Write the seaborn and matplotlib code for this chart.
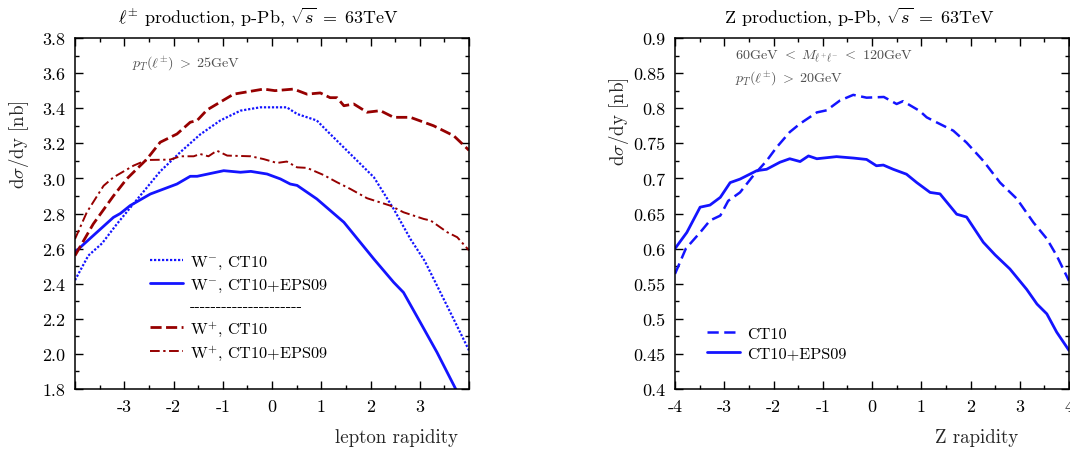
import numpy as np
import pandas as pd
import matplotlib
matplotlib.use("Agg")
import matplotlib.pyplot as plt
from matplotlib.lines import Line2D
import seaborn as sns

# ---------------- data ----------------
wm_ct10_x = [-4.0, -3.73, -3.45, -3.15, -2.74, -2.27, -1.86, -1.46, -1.05, -0.64, -0.24, 0.30, 0.51,
             0.91, 1.12, 1.66, 2.07, 2.47, 2.81, 3.10, 3.62, 4.0]
wm_ct10_y = [2.42, 2.56, 2.63, 2.74, 2.88, 3.04, 3.15, 3.25, 3.33, 3.386, 3.405, 3.405, 3.367,
             3.33, 3.27, 3.12, 3.006, 2.826, 2.655, 2.53, 2.237, 2.02]

wm_eps_x = [-4.0, -3.63, -3.22, -3.08, -2.88, -2.47, -1.93, -1.66, -1.52, -0.98, -0.64, -0.43, -0.10,
            0.17, 0.37, 0.51, 0.91, 1.46, 2.07, 2.47, 2.67, 3.01, 3.35, 3.73, 4.0]
wm_eps_y = [2.58, 2.674, 2.778, 2.80, 2.845, 2.911, 2.968, 3.012, 3.012, 3.044, 3.035, 3.04, 3.025,
            2.997, 2.968, 2.96, 2.883, 2.75, 2.54, 2.408, 2.35, 2.18, 2.009, 1.80, 1.66]

wp_ct10_x = [-4.0, -3.63, -3.22, -2.95, -2.54, -2.27, -1.93, -1.66, -1.52, -1.32, -0.78, -0.17, 0.06,
             0.44, 0.71, 0.98, 1.18, 1.32, 1.46, 1.66, 1.93, 2.20, 2.47, 2.81, 3.28, 3.69, 4.0]
wp_ct10_y = [2.56, 2.74, 2.90, 2.997, 3.11, 3.206, 3.253, 3.32, 3.33, 3.39, 3.48, 3.509, 3.50,
             3.509, 3.48, 3.487, 3.46, 3.46, 3.414, 3.424, 3.377, 3.386, 3.348, 3.348, 3.30, 3.243, 3.16]

wp_eps_x = [-4.0, -3.76, -3.42, -3.22, -2.81, -2.54, -2.07, -1.86, -1.59, -1.46, -1.29, -1.12, -0.91,
            -0.43, -0.17, 0.10, 0.30, 0.51, 0.71, 1.05, 1.32, 1.59, 1.93, 2.40, 2.67, 3.08, 3.22,
            3.56, 3.76, 4.0]
wp_eps_y = [2.655, 2.807, 2.958, 3.006, 3.073, 3.105, 3.107, 3.126, 3.126, 3.139, 3.126, 3.158, 3.13,
            3.126, 3.11, 3.088, 3.096, 3.063, 3.06, 3.019, 2.978, 2.94, 2.887, 2.845, 2.807, 2.769,
            2.76, 2.693, 2.665, 2.59]

z_ct10_x = [-4.0, -3.78, -3.49, -3.29, -3.08, -2.92, -2.68, -2.41, -2.14, -1.94, -1.67, -1.46, -1.12,
            -0.92, -0.65, -0.38, -0.11, 0.24, 0.50, 0.63, 0.97, 1.11, 1.25, 1.65, 1.92, 2.26, 2.60,
            2.94, 3.28, 3.55, 3.75, 4.0]
z_ct10_y = [0.564, 0.60, 0.623, 0.640, 0.647, 0.668, 0.680, 0.704, 0.725, 0.744, 0.766, 0.778, 0.794,
            0.797, 0.811, 0.819, 0.815, 0.816, 0.806, 0.81, 0.796, 0.787, 0.782, 0.768, 0.751, 0.725,
            0.694, 0.671, 0.637, 0.614, 0.590, 0.554]

z_eps_x = [-4.0, -3.76, -3.49, -3.29, -3.08, -2.88, -2.68, -2.34, -2.14, -1.87, -1.67, -1.46, -1.29,
           -1.12, -0.72, -0.38, -0.11, 0.09, 0.23, 0.43, 0.70, 0.91, 1.18, 1.38, 1.72, 1.92, 2.26,
           2.50, 2.80, 3.14, 3.35, 3.55, 3.75, 4.0]
z_eps_y = [0.60, 0.623, 0.659, 0.662, 0.673, 0.694, 0.699, 0.711, 0.713, 0.723, 0.728, 0.724, 0.732,
           0.728, 0.731, 0.729, 0.727, 0.718, 0.719, 0.713, 0.706, 0.694, 0.680, 0.678, 0.649, 0.645,
           0.609, 0.591, 0.571, 0.542, 0.521, 0.507, 0.481, 0.455]

left_labels = [r"W$^{\mathrm{-}}$, CT10", r"W$^{\mathrm{-}}$, CT10+EPS09",
               r"W$^{+}$, CT10", r"W$^{+}$, CT10+EPS09"]
right_labels = ["CT10", "CT10+EPS09"]

left_yticks = [1.8, 2.0, 2.2, 2.4, 2.6, 2.8, 3.0, 3.2, 3.4, 3.6, 3.8]
left_xticks = [-4, -3, -2, -1, 0, 1, 2, 3, 4]
left_xticklabels = ["", "-3", "-2", "-1", "0", "1", "2", "3", ""]
right_yticks = [0.4, 0.45, 0.5, 0.55, 0.6, 0.65, 0.7, 0.75, 0.8, 0.85, 0.9]
right_yticklabels = ["0.4", "0.45", "0.5", "0.55", "0.6", "0.65", "0.7", "0.75", "0.8", "0.85", "0.9"]
right_xticks = [-4, -3, -2, -1, 0, 1, 2, 3, 4]
right_xticklabels = ["-4", "-3", "-2", "-1", "0", "1", "2", "3", "4"]

# ---------------- style ----------------
sns.set_theme(style="ticks")
plt.rcParams.update({
    "font.family": "serif",
    "font.serif": ["cmr10"],
    "mathtext.fontset": "cm",
    "axes.unicode_minus": False,
    "axes.formatter.use_mathtext": True,
    "axes.linewidth": 1.1,
    "axes.edgecolor": "black",
    "xtick.color": "black",
    "ytick.color": "black",
    "text.color": "black",
})

BLUE = "#1414ff"
RED = "#960000"

fig = plt.figure(figsize=(10.70, 4.52), dpi=100)
axL = fig.add_axes([75 / 1070, 62 / 452, 394 / 1070, 351 / 452])
axR = fig.add_axes([675 / 1070, 62 / 452, 394 / 1070, 351 / 452])


def draw(ax, xs, ys, **kw):
    df = pd.DataFrame({"x": xs, "y": ys})
    sns.lineplot(data=df, x="x", y="y", ax=ax, sort=False, estimator=None, legend=False, **kw)


# left panel
draw(axL, wm_ct10_x, wm_ct10_y, color=BLUE, lw=1.6, linestyle=(0, (1.0, 0.8)))
draw(axL, wm_eps_x, wm_eps_y, color=BLUE, lw=2.0, linestyle="-")
draw(axL, wp_ct10_x, wp_ct10_y, color=RED, lw=2.0, linestyle=(0, (4.0, 1.6)))
draw(axL, wp_eps_x, wp_eps_y, color=RED, lw=1.4, linestyle=(0, (5.0, 1.8, 1.2, 1.8)))

# right panel
draw(axR, z_ct10_x, z_ct10_y, color=BLUE, lw=1.8, linestyle=(0, (4.5, 2.2)))
draw(axR, z_eps_x, z_eps_y, color=BLUE, lw=2.0, linestyle="-")

for ax in (axL, axR):
    ax.set_xlim(-4, 4)
    ax.tick_params(which="both", direction="in", top=True, right=True, labelsize=13, pad=7)
    ax.tick_params(which="major", length=6, width=1.0)
    ax.tick_params(which="minor", length=3, width=1.0)
    ax.set_xlabel("")
    ax.set_ylabel("")
    ax.grid(False)

axL.set_ylim(1.8, 3.8)
axL.set_xticks(left_xticks)
axL.set_xticklabels(left_xticklabels)
axL.set_xticks(np.arange(-3.5, 4.0, 1.0), minor=True)
axL.set_yticks(left_yticks)
axL.set_yticklabels([f"{v:.1f}" for v in left_yticks])
axL.set_yticks(np.arange(1.9, 3.8, 0.2), minor=True)

axR.set_ylim(0.4, 0.9)
axR.set_xticks(right_xticks)
axR.set_xticklabels(right_xticklabels)
axR.set_xticks(np.arange(-3.5, 4.0, 1.0), minor=True)
axR.set_yticks(right_yticks)
axR.set_yticklabels(right_yticklabels)
axR.set_yticks(np.arange(0.425, 0.9, 0.05), minor=True)

# titles (slightly left of the axes centre, as in the reference)
axL.set_title(r"$\ell^{\pm}$ production, p-Pb, $\sqrt{s}\;=\;63$TeV", fontsize=13, pad=12, x=0.464)
axR.set_title(r"Z production, p-Pb, $\sqrt{s}\;=\;63$TeV", fontsize=13, pad=12, x=0.467)

# axis labels
axL.set_ylabel(r"d$\sigma$/dy [nb]", fontsize=13.6)
axL.yaxis.set_label_coords(-0.112, 0.70)
axR.set_ylabel(r"d$\sigma$/dy [nb]", fontsize=13.6)
axR.yaxis.set_label_coords(-0.112, 0.765)
axL.set_xlabel("lepton rapidity", fontsize=13.6)
axL.xaxis.set_label_coords(0.817, -0.11)
axR.set_xlabel("Z rapidity", fontsize=13.6)
axR.xaxis.set_label_coords(0.766, -0.11)

# annotations
GRAY = "#505050"
axL.text(0.145, 0.93, r"$p_T(\ell^{\pm})\;>\;25$GeV", transform=axL.transAxes, fontsize=10.2,
         color=GRAY, va="center", ha="left")
axR.text(0.152, 0.95, r"60GeV $<\;M_{\ell^{+}\ell^{-}}\;<$ 120GeV", transform=axR.transAxes,
         fontsize=10.2, color=GRAY, va="center", ha="left")
axR.text(0.152, 0.888, r"$p_T(\ell^{\pm})\;>\;20$GeV", transform=axR.transAxes, fontsize=10.2,
         color=GRAY, va="center", ha="left")

# legends
lL = axL.get_lines()
sep = Line2D([], [], color="none")
handles = [lL[0], lL[1], sep, lL[2], lL[3]]
labels = [left_labels[0], left_labels[1], "-" * 21, left_labels[2], left_labels[3]]
axL.legend(handles, labels, loc="upper left", bbox_to_anchor=(0.19, 0.385), frameon=False,
           fontsize=11.7, handlelength=2.05, handletextpad=0.42, borderpad=0, borderaxespad=0,
           labelspacing=0.34)

lR = axR.get_lines()
axR.legend([lR[0], lR[1]], right_labels, loc="upper left", bbox_to_anchor=(0.081, 0.179),
           frameon=False, fontsize=11.7, handlelength=2.05, handletextpad=0.42, borderpad=0,
           borderaxespad=0, labelspacing=0.34)

fig.savefig("out.png", dpi=100)
